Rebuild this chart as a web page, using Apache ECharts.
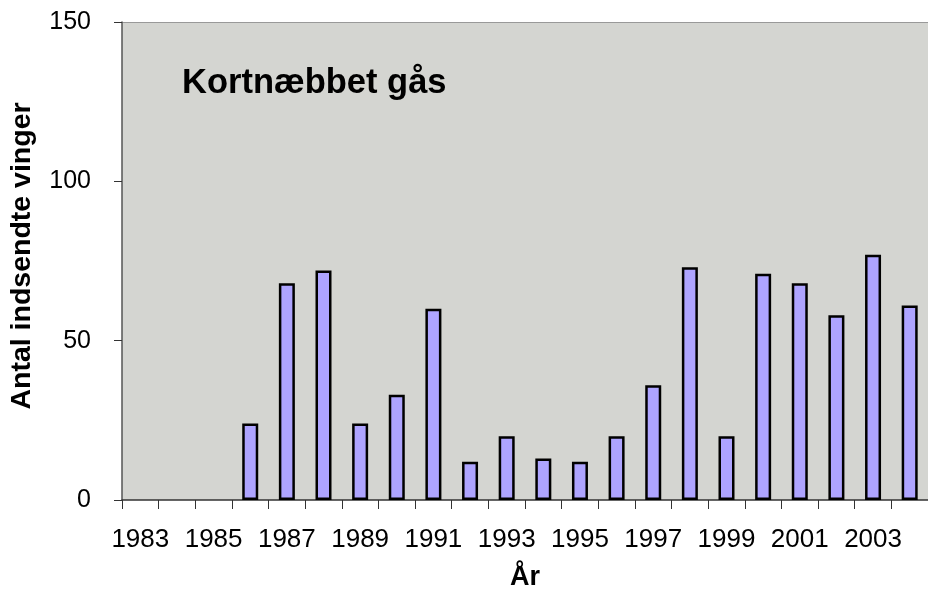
<!DOCTYPE html>
<html>
<head>
<meta charset="utf-8">
<script src="https://cdn.jsdelivr.net/npm/echarts@6/dist/echarts.min.js"></script>
<style>html,body{margin:0;padding:0;background:#fff}#c{width:928px;height:597px}</style>
</head>
<body>
<div id="c"></div>
<script>
const years = ['1983','1984','1985','1986','1987','1988','1989','1990','1991','1992','1993','1994','1995','1996','1997','1998','1999','2000','2001','2002','2003','2004'];
const wings = [null,null,null,24,68,72,24,33,60,12,20,13,12,20,36,73,20,71,68,58,77,61];
const yTicks = [0,50,100,150];
const titleText = 'Kortnæbbet gås';
const yName = 'Antal indsendte vinger';
const xName = 'År';

const chart = echarts.init(document.getElementById('c'));
chart.setOption({
  animation: false,
  backgroundColor: '#ffffff',
  textStyle: {fontFamily: 'Liberation Sans, Arial, sans-serif'},
  grid: {left: 122, right: -8, top: 22, bottom: 97, show: true, backgroundColor: '#D4D5D1', borderWidth: 0},
  title: {text: titleText, left: 177, top: 61, textStyle: {fontSize: 34.5, fontWeight: 'bold', color: '#000', fontFamily: 'Liberation Sans, Arial, sans-serif'}},
  graphic: [{
    type: 'text', x: 22, y: 256, rotation: Math.PI / 2,
    style: {text: yName, font: 'bold 28.5px "Liberation Sans", Arial, sans-serif', fill: '#000', textAlign: 'center', textVerticalAlign: 'middle'}
  }],
  xAxis: {
    type: 'category', data: years,
    name: xName, nameLocation: 'middle', nameGap: 64,
    nameTextStyle: {fontSize: 27, fontWeight: 'bold', color: '#000'},
    axisLine: {lineStyle: {color: '#333', width: 1.5}},
    axisTick: {show: true, interval: 0, length: 9, lineStyle: {color: '#333'}},
    axisLabel: {interval: 1, margin: 27, fontSize: 26, color: '#000'},
    splitLine: {show: false}
  },
  yAxis: {
    type: 'value', min: 0, max: 150, interval: 50,
    axisLine: {show: true, lineStyle: {color: '#555', width: 1.5}},
    axisTick: {show: true, length: 8, lineStyle: {color: '#333'}},
    axisLabel: {margin: 31, fontSize: 25, color: '#000', formatter: v => yTicks.includes(v) ? String(v) : ''},
    splitLine: {show: true, lineStyle: {color: ['transparent','transparent','transparent','#999'], width: 1}}
  },
  series: [{
    type: 'bar', data: wings, barWidth: 16,
    itemStyle: {color: '#AEA4FF', borderColor: '#000', borderWidth: 2.5}
  }]
});
</script>
</body>
</html>
